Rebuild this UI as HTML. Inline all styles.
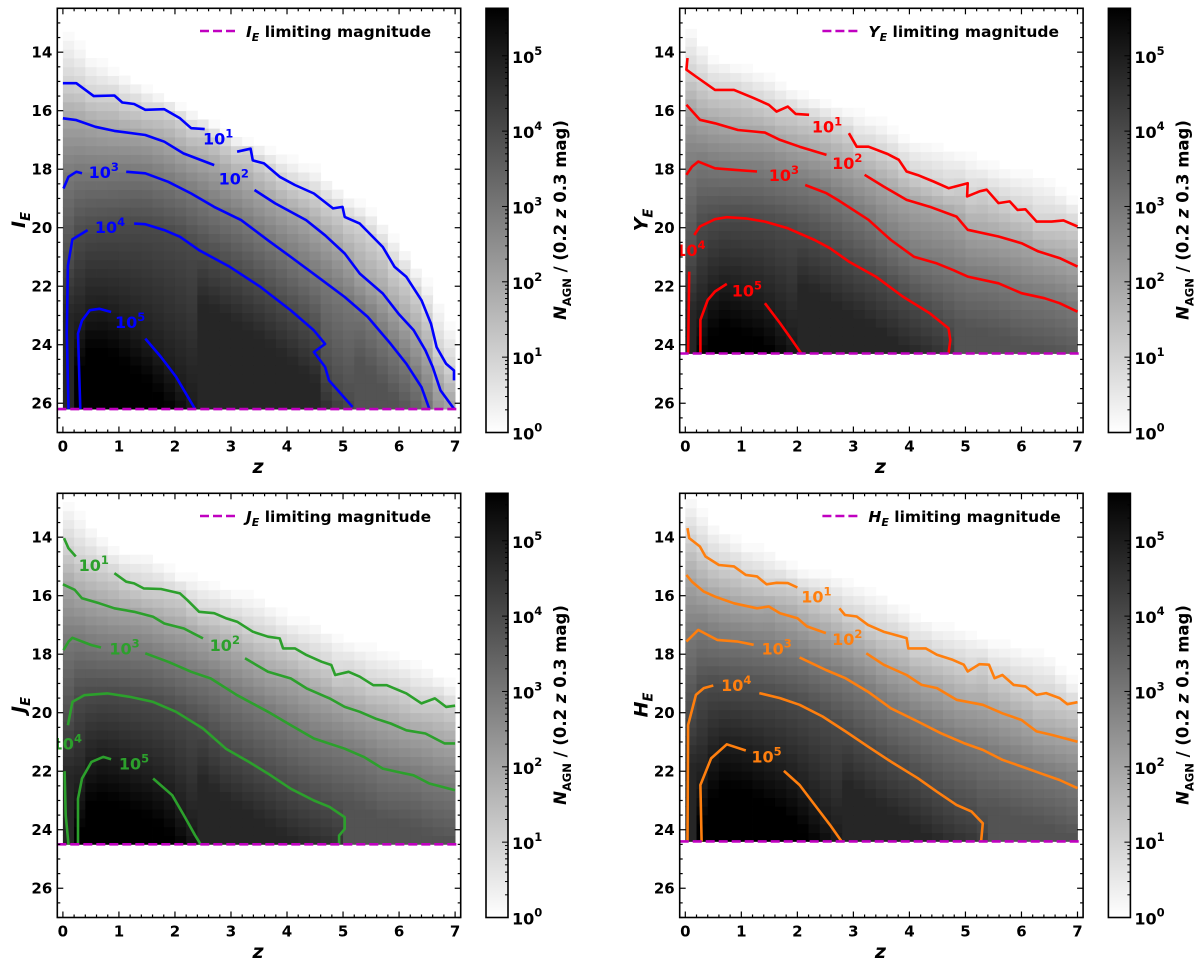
<!DOCTYPE html>
<html><head><meta charset="utf-8"><style>
html,body{margin:0;padding:0;background:#fff;}
svg{display:block;font-family:"DejaVu Sans","Liberation Sans",sans-serif;font-weight:bold;}
</style></head><body>
<svg id="fig" width="1200" height="965" viewBox="0 0 1200 965" xmlns="http://www.w3.org/2000/svg">
<defs>
<linearGradient id="cbgrad" x1="0" y1="1" x2="0" y2="0"><stop offset="0" stop-color="#fff"/><stop offset="1" stop-color="#000"/></linearGradient>
</defs>
</svg>
<script>
// ---------- data (z, magnitude) ----------
const bandNames = ["I", "Y", "J", "H"];
const limitMags = [26.2, 24.3, 24.5, 24.4];
const contourLevels = [1, 2, 3, 4, 5];
const contourColors = ["#0000ff", "#ff0000", "#2ca02c", "#ff7f0e"];
const xTicks = [0, 1, 2, 3, 4, 5, 6, 7];
const yTicks = [14, 16, 18, 20, 22, 24, 26];
const cbTicks = [0, 1, 2, 3, 4, 5];

const I_edge = [[0,13.3],[0.5,14.3],[1,14.8],[1.5,15.3],[2,15.8],[2.5,16.3],[3,16.9],[3.5,17.2],[4,17.7],[4.5,18.1],[5,18.9],[5.5,19.5],[6,20.6],[6.5,22.0],[7,23.8]];
const I_c1 = [[0,15.06],[0.24,15.06],[0.55,15.5],[0.92,15.48],[1.06,15.72],[1.27,15.77],[1.47,15.97],[1.81,15.95],[2.09,16.26],[2.29,16.6],[2.53,16.63],null,[3.11,17.4],[3.35,17.3],[3.39,17.7],[3.59,17.8],[3.87,18.26],[4.14,18.54],[4.48,18.83],[4.82,19.34],[4.99,19.29],[5.03,19.63],[5.3,19.86],[5.71,20.66],[5.92,21.34],[6.13,21.68],[6.4,22.48],[6.57,23.28],[6.67,24.08],[6.84,24.65],[6.98,24.88],[6.98,25.22]];
const I_c2 = [[0,16.26],[0.24,16.32],[0.58,16.55],[0.92,16.69],[1.47,16.83],[1.81,17.06],[2.15,17.46],[2.7,17.86],null,[3.42,18.71],[3.79,19.17],[4.34,19.74],[4.68,20.26],[5.03,20.88],[5.3,21.57],[5.71,22.25],[5.99,22.94],[6.26,23.5],[6.47,24.19],[6.6,24.76],[6.74,25.56],[6.98,26.19]];
const I_c3 = [[0.01,18.66],[0.1,18.26],[0.24,18.09],[0.34,18.14],null,[1.13,18.09],[1.47,18.14],[1.88,18.43],[2.29,18.83],[2.7,19.29],[3.18,19.74],[3.66,20.43],[4.07,21.0],[4.55,21.68],[5.03,22.37],[5.44,23.05],[5.85,23.97],[6.13,24.65],[6.4,25.45],[6.54,26.19]];
const I_c4 = [[0.1,26.2],[0.07,23.6],[0.09,21.3],[0.17,20.4],[0.44,20.08],null,[1.27,19.86],[1.47,19.88],[1.81,20.08],[2.09,20.31],[2.43,20.77],[2.98,21.34],[3.53,22.03],[4.07,22.83],[4.48,23.51],[4.68,23.97],[4.48,24.25],[4.68,24.76],[4.75,25.22],[5.17,26.13]];
const I_c5 = [[0.31,26.2],[0.27,23.62],[0.34,23.17],[0.48,22.82],[0.65,22.77],[0.86,22.88],null,[1.47,23.79],[1.75,24.42],[2.02,25.1],[2.36,26.2]];
const I_labels = [[2.77,16.95],[3.05,18.31],[0.73,18.09],[0.84,19.97],[1.2,23.22]];

const Y_edge = [[0,13.1],[0.5,14.3],[1,14.6],[1.5,14.9],[2,15.5],[2.5,15.8],[3,16.1],[3.5,16.5],[4,17.1],[4.5,17.3],[5,17.6],[5.5,18.0],[6,18.2],[6.5,18.5],[7,19.2]];
const Y_c1 = [[0.04,14.2],[0.02,14.6],[0.19,14.83],[0.53,15.29],[0.87,15.29],[1.22,15.57],[1.49,15.8],[1.63,16.03],[1.83,15.86],[1.97,16.11],[2.21,16.14],null,[2.92,16.77],[3.06,17.23],[3.27,17.23],[3.61,17.48],[3.81,17.68],[3.95,18.08],[4.15,18.2],[4.43,18.42],[4.7,18.65],[5.04,18.48],[5.03,18.93],[5.25,18.76],[5.38,18.7],[5.59,19.16],[5.79,19.1],[5.93,19.39],[6.07,19.37],[6.27,19.79],[6.54,19.79],[6.75,19.75],[7,19.96]];
const Y_c2 = [[0.02,15.8],[0.26,16.31],[0.53,16.43],[0.94,16.66],[1.22,16.71],[1.42,16.75],[1.69,17.0],[2.04,17.23],[2.52,17.51],null,[3.2,18.19],[3.54,18.59],[3.95,19.05],[4.36,19.28],[4.84,19.62],[5.04,20.07],[5.59,20.3],[6.0,20.53],[6.3,20.81],[6.68,21.04],[7,21.33]];
const Y_c3 = [[0.02,18.19],[0.12,17.91],[0.23,17.74],[0.53,17.97],[0.87,18.02],[1.28,18.08],null,[2.14,18.54],[2.52,18.82],[2.72,19.05],[3.27,19.73],[3.67,20.42],[4.08,20.99],[4.49,21.22],[4.77,21.44],[5.04,21.67],[5.59,21.9],[6.0,22.24],[6.41,22.41],[6.68,22.58],[7,22.87]];
const Y_c4 = [[0.05,24.3],[0.07,21.5],null,[0.16,20.25],[0.26,19.96],[0.53,19.71],[0.74,19.64],[1.08,19.68],[1.42,19.79],[1.83,20.02],[2.31,20.42],[2.58,20.7],[2.92,21.16],[3.4,21.67],[3.88,22.35],[4.36,22.92],[4.7,23.44],[4.73,23.84],[4.7,24.29]];
const Y_c5 = [[0.27,24.3],[0.27,23.15],[0.4,22.47],[0.53,22.18],[0.74,21.92],null,[1.42,22.58],[1.69,23.26],[1.9,23.83],[2.07,24.3]];
const Y_labels = [[2.53,16.54],[2.89,17.79],[1.76,18.19],[0.09,20.76],[1.1,22.15]];

const J_edge = [[0,12.8],[0.5,13.8],[1,14.6],[1.5,14.7],[2,15.3],[2.5,15.6],[3,15.9],[3.5,16.2],[4,16.8],[4.5,17.1],[5,17.6],[5.5,17.9],[6,18.2],[6.5,18.6],[7,19.2]];
const J_c1 = [[0.02,14.03],[0.1,14.38],[0.23,14.66],null,[0.92,15.23],[1.13,15.52],[1.27,15.58],[1.44,15.75],[1.75,15.77],[2.09,15.92],[2.22,16.15],[2.43,16.55],[2.7,16.6],[2.91,16.77],[3.11,16.89],[3.39,17.23],[3.66,17.4],[3.87,17.46],[3.93,17.8],[4.14,17.8],[4.35,18.03],[4.62,18.26],[4.79,18.37],[4.86,18.71],[5.1,18.6],[5.3,18.77],[5.54,19.06],[5.78,19.06],[6.13,19.34],[6.4,19.68],[6.64,19.51],[6.84,19.8],[7,19.76]];
const J_c2 = [[0,15.61],[0.21,15.8],[0.34,16.09],[0.65,16.26],[0.92,16.43],[1.27,16.55],[1.61,16.72],[1.81,16.95],[2.16,17.12],[2.5,17.46],null,[3.25,18.14],[3.66,18.6],[4.07,18.83],[4.35,19.17],[4.76,19.51],[5.03,19.8],[5.3,19.97],[5.58,20.2],[5.85,20.37],[6.13,20.6],[6.47,20.71],[6.81,21.05],[7,21.05]];
const J_c3 = [[0.01,17.86],[0.1,17.57],[0.17,17.44],[0.51,17.69],[0.68,17.77],null,[1.47,17.97],[1.88,18.26],[2.29,18.6],[2.64,18.83],[3.11,19.4],[3.66,19.97],[4.07,20.43],[4.48,20.88],[5.03,21.23],[5.37,21.51],[5.71,21.91],[5.99,22.03],[6.26,22.14],[6.54,22.42],[7,22.65]];
const J_c4 = [[0.1,24.5],[0.05,23.5],[0.03,22.0],null,[0.09,20.43],[0.17,19.63],[0.38,19.4],[0.79,19.34],[1.2,19.46],[1.61,19.63],[2.02,19.97],[2.5,20.54],[2.91,21.23],[3.32,21.68],[3.66,22.08],[4.07,22.6],[4.48,23.0],[4.76,23.22],[5.03,23.57],[5.03,23.97],[4.93,24.2],[4.93,24.5]];
const J_c5 = [[0.27,24.5],[0.27,22.94],[0.34,22.25],[0.51,21.68],[0.72,21.51],[0.86,21.59],null,[1.61,22.25],[1.95,22.82],[2.16,23.51],[2.36,24.19],[2.46,24.5]];
const J_labels = [[0.55,14.95],[2.89,17.69],[1.1,17.8],[0.07,21.05],[1.27,21.74]];

const H_edge = [[0,12.6],[0.5,13.7],[1,14.3],[1.5,14.6],[2,15.2],[2.5,15.3],[3,15.7],[3.5,16.1],[4,16.7],[4.5,17.1],[5,17.3],[5.5,17.7],[6,17.9],[6.5,18.2],[7,19.2]];
const H_c1 = [[0.04,13.69],[0.07,14.03],[0.26,14.32],[0.36,14.66],[0.6,14.95],[0.87,15.0],[1.08,15.29],[1.28,15.34],[1.45,15.61],[1.63,15.56],[1.83,15.57],[2.0,15.72],null,[2.75,16.43],[2.85,16.66],[3.06,16.71],[3.26,17.0],[3.54,17.23],[3.95,17.45],[3.98,17.8],[4.29,17.8],[4.49,18.02],[4.77,18.19],[4.97,18.36],[5.04,18.59],[5.25,18.34],[5.42,18.36],[5.52,18.82],[5.66,18.71],[5.86,19.05],[6.07,19.1],[6.27,19.39],[6.44,19.33],[6.68,19.5],[6.82,19.71],[7,19.64]];
const H_c2 = [[0.02,15.29],[0.12,15.52],[0.33,15.86],[0.53,16.03],[0.87,16.26],[1.28,16.43],[1.49,16.37],[1.69,16.6],[2.0,16.77],[2.17,17.05],[2.51,17.28],null,[3.23,17.97],[3.54,18.36],[3.95,18.71],[4.22,19.05],[4.49,19.16],[4.84,19.56],[5.31,19.73],[5.66,20.02],[6.0,20.25],[6.27,20.64],[6.54,20.76],[7,20.99]];
const H_c3 = [[0.02,17.57],[0.23,17.17],[0.57,17.51],[0.94,17.57],[1.22,17.68],null,[2.04,18.11],[2.51,18.54],[2.86,18.82],[3.26,19.28],[3.67,19.85],[4.15,20.3],[4.56,20.7],[4.97,21.04],[5.31,21.27],[5.66,21.61],[6.0,21.84],[6.34,22.07],[6.68,22.3],[7,22.58]];
const H_c4 = [[0.04,24.4],[0.05,20.42],[0.19,19.39],[0.33,19.16],[0.5,19.07],null,[1.32,19.33],[1.69,19.5],[2.04,19.73],[2.45,20.13],[2.86,20.64],[3.26,21.16],[3.67,21.67],[4.15,22.24],[4.49,22.7],[4.84,23.15],[5.11,23.38],[5.31,23.78],[5.28,24.4]];
const H_c5 = [[0.29,24.4],[0.27,22.47],[0.46,21.56],[0.74,21.08],[1.08,21.29],null,[1.76,21.99],[2.04,22.47],[2.31,23.15],[2.58,23.83],[2.79,24.4]];
const H_labels = [[2.34,16.03],[2.89,17.48],[1.63,17.8],[0.91,19.05],[1.45,21.5]];

const edges = [I_edge, Y_edge, J_edge, H_edge];
const contours = [[I_c1,I_c2,I_c3,I_c4,I_c5],[Y_c1,Y_c2,Y_c3,Y_c4,Y_c5],[J_c1,J_c2,J_c3,J_c4,J_c5],[H_c1,H_c2,H_c3,H_c4,H_c5]];
const labelPos = [I_labels, Y_labels, J_labels, H_labels];

// ---------- layout ----------
const NS = "http://www.w3.org/2000/svg";
const svg = document.getElementById("fig");
const offsets = [[0,0],[622.4,0],[0,485],[622.4,485]];
const AX_L = 57.3, AX_T = 8.3, AX_W = 403.4, AX_H = 424.2;
const ZMIN = -0.1, ZMAX = 7.1, MTOP = 12.5, MBOT = 27.0, CMAX = 5.63;
const DZ = 0.2, DM = 0.3, NCOL = 35;

function el(tag, attrs, parent) {
  const e = document.createElementNS(NS, tag);
  for (const k in attrs) e.setAttribute(k, attrs[k]);
  (parent || svg).appendChild(e);
  return e;
}
function interpCurve(curve, z) {
  const pts = curve.filter(p => p !== null);
  let best = null;
  for (let i = 0; i < pts.length - 1; i++) {
    const a = pts[i], b = pts[i+1];
    const lo = Math.min(a[0], b[0]), hi = Math.max(a[0], b[0]);
    if (z < lo || z > hi || hi - lo < 1e-6) continue;
    const m = a[1] + (b[1] - a[1]) * (z - a[0]) / (b[0] - a[0]);
    if (best === null || m < best) best = m;
  }
  return best;
}
function grayOf(v) {
  const f = Math.max(0, Math.min(1, v / CMAX));
  const g = Math.round(255 * (1 - f));
  return "rgb(" + g + "," + g + "," + g + ")";
}

for (let p = 0; p < 4; p++) {
  const ox = offsets[p][0], oy = offsets[p][1];
  const L = AX_L + ox, T = AX_T + oy;
  const xs = z => L + (z - ZMIN) / (ZMAX - ZMIN) * AX_W;
  const ys = m => T + (m - MTOP) / (MBOT - MTOP) * AX_H;
  const g = el("g", {});
  
  
  const clipId = "clip" + p;
  const cp = el("clipPath", {id: clipId}, g);
  el("rect", {x: L, y: T, width: AX_W, height: AX_H}, cp);

  // heatmap
  const hm = el("g", {"clip-path": "url(#" + clipId + ")"}, g);
  
  
  const lim = limitMags[p];
  for (let c = 0; c < NCOL; c++) {
    const zc = c * DZ + DZ / 2;
    const edge = interpCurve(edges[p], zc);
    const knots = [[edge, 0.15]];
    for (let k = 0; k < 5; k++) {
      const mk = interpCurve(contours[p][k], zc);
      if (mk !== null && mk > knots[knots.length-1][0]) knots.push([mk, contourLevels[k]]);
    }
    for (let r = 0; r < 60; r++) {
      const mb = lim - r * DM, mt = mb - DM, mc = (mb + mt) / 2;
      if (mb < MTOP) break;
      if (mc < edge - 0.15) continue;
      let v;
      if (mc <= knots[0][0]) v = 0.1;
      else {
        const last = knots[knots.length-1];
        if (mc >= last[0]) v = Math.min(last[1] + 0.45 * (mc - last[0]), last[1] + 0.8, CMAX);
        else {
          for (let i = 0; i < knots.length - 1; i++) {
            if (mc >= knots[i][0] && mc <= knots[i+1][0]) {
              v = knots[i][1] + (knots[i+1][1] - knots[i][1]) * (mc - knots[i][0]) / (knots[i+1][0] - knots[i][0]);
              break;
            }
          }
        }
      }
      const x0 = xs(c * DZ), x1 = xs((c + 1) * DZ);
      const cell = el("rect", {x: x0.toFixed(2), y: ys(mt).toFixed(2), width: (x1 - x0 + 0.4).toFixed(2), height: (ys(mb) - ys(mt) + 0.4).toFixed(2), fill: grayOf(v)}, hm);
      
      
    }
  }

  // contours
  const cg = el("g", {"clip-path": "url(#" + clipId + ")", fill: "none", stroke: contourColors[p], "stroke-width": 2.6, "stroke-linejoin": "round", "stroke-linecap": "butt"}, g);
  for (let k = 0; k < 5; k++) {
    let d = "", start = true;
    for (const pt of contours[p][k]) {
      if (pt === null) { start = true; continue; }
      d += (start ? "M" : "L") + xs(pt[0]).toFixed(1) + " " + ys(pt[1]).toFixed(1) + " ";
      start = false;
    }
    const path = el("path", {d: d}, cg);
    
    
    const lp = labelPos[p][k];
    const t = el("text", {x: xs(lp[0]), y: ys(lp[1]) + 6, "text-anchor": "middle", "font-size": 16, fill: contourColors[p], stroke: "none"}, cg);
    
    
    t.innerHTML = '10<tspan dy="-7" font-size="11.5">' + contourLevels[k] + '</tspan>';
  }

  // limiting magnitude line
  const ll = el("line", {x1: L, x2: L + AX_W, y1: ys(lim), y2: ys(lim), stroke: "#c000c0", "stroke-width": 2.6, "stroke-dasharray": "9,4"}, g);
  
  

  // axes frame + ticks
  const fr = el("rect", {x: L, y: T, width: AX_W, height: AX_H, fill: "none", stroke: "#000", "stroke-width": 1.6}, g);
  
  
  const tk = el("g", {stroke: "#000", "stroke-width": 1.2}, g);
  for (let i = 0; i <= 35; i++) {
    const z = i * 0.2, x = xs(z), len = (i % 5 === 0) ? 6 : 3;
    el("line", {x1: x, x2: x, y1: T + AX_H, y2: T + AX_H - len}, tk);
    el("line", {x1: x, x2: x, y1: T, y2: T + len}, tk);
  }
  for (let m = 13; m <= 27; m += 0.5) {
    const y = ys(m), len = (m % 2 === 0) ? 6 : 3;
    el("line", {x1: L, x2: L + len, y1: y, y2: y}, tk);
    el("line", {x1: L + AX_W, x2: L + AX_W - len, y1: y, y2: y}, tk);
  }
  for (const z of xTicks) {
    const t = el("text", {x: xs(z), y: T + AX_H + 19, "text-anchor": "middle", "font-size": 15}, g);
    
    
    t.textContent = z;
  }
  for (const m of yTicks) {
    const t = el("text", {x: L - 5, y: ys(m) + 5.5, "text-anchor": "end", "font-size": 15}, g);
    
    
    t.textContent = m;
  }
  const xl = el("text", {x: 258 + ox, y: 473 + oy, "text-anchor": "middle", "font-size": 19, "font-style": "italic"}, g);
  
  
  xl.textContent = "z";
  const yl = el("text", {x: 0, y: 0, "text-anchor": "middle", "font-size": 19, "font-style": "italic", transform: "translate(" + (25 + ox) + "," + (220 + oy) + ") rotate(-90)"}, g);
  
  
  yl.innerHTML = bandNames[p] + '<tspan dy="5" font-size="13">E</tspan>';

  // legend
  const lg = el("g", {}, g);
  
  
  el("line", {x1: 200 + ox, x2: 235 + ox, y1: 31 + oy, y2: 31 + oy, stroke: "#c000c0", "stroke-width": 2.6, "stroke-dasharray": "9,4"}, lg);
  const lt = el("text", {x: 246 + ox, y: 37 + oy, "font-size": 15.5}, lg);
  lt.innerHTML = '<tspan font-style="italic">' + bandNames[p] + '</tspan><tspan font-style="italic" dy="4" font-size="11">E</tspan><tspan dy="-4"> limiting magnitude</tspan>';

  // colorbar
  const cbx = 486 + ox, cbw = 22;
  const cb = el("g", {}, g);
  
  
  el("rect", {x: cbx, y: T, width: cbw, height: AX_H, fill: "url(#cbgrad)", stroke: "#000", "stroke-width": 1.6}, cb);
  const cy = v => T + AX_H - v / CMAX * AX_H;
  for (let d = 0; d <= 5; d++) {
    for (let s = 1; s <= 9; s++) {
      const v = d + Math.log10(s);
      if (v > CMAX) break;
      const len = s === 1 ? 6 : 3;
      el("line", {x1: cbx + cbw, x2: cbx + cbw - len, y1: cy(v), y2: cy(v), stroke: "#000", "stroke-width": 1}, cb);
    }
  }
  for (const d of cbTicks) {
    const t = el("text", {x: 512 + ox, y: cy(d) + 7, "font-size": 16}, cb);
    
    
    t.innerHTML = '10<tspan dy="-8" font-size="11.5">' + d + '</tspan>';
  }
  const cl = el("text", {x: 0, y: 0, "text-anchor": "middle", "font-size": 16.5, transform: "translate(" + (566 + ox) + "," + (220 + oy) + ") rotate(-90)"}, g);
  
  
  cl.innerHTML = '<tspan font-style="italic">N</tspan><tspan dy="5" font-size="11.5">AGN</tspan><tspan dy="-5"> / (0.2 </tspan><tspan font-style="italic">z</tspan><tspan> 0.3 mag)</tspan>';
}
</script>
</body></html>
